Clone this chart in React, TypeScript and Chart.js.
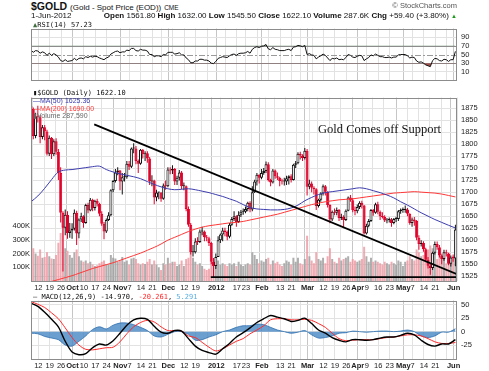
import React, { useEffect, useRef } from "react";
import { Chart, registerables } from "chart.js";
Chart.register(...registerables);

// ---------------- DATA ----------------
// Daily trading days Sep 6 2011 .. Jun 1 2012 (index = trading day)
const opens = [
  1880,1873,1817,1858,1856,1815,1835,1826,1780,1813,
  1779,1806,1784,1740,1657,1626,1653,1615,1620,1624,
  1657,1614,1643,1650,1636,1673,1662,1684,1667,1682,
  1676,1655,1634,1618,1642,1652,1704,1723,1741,1745,
  1722,1731,1731,1759,1753,1791,1791,1765,1759,1788,
  1779,1781,1770,1722,1724,1689,1699,1699,1686,1714,
  1712,1747,1745,1748,1722,1730,1741,1712,1712,1665,
  1632,1575,1575,1597,1596,1618,1618,1606,1604,1594,
  1555,1546,1565,1600,1612,1620,1617,1607,1632,1644,
  1650,1638,1653,1659,1659,1665,1678,1664,1700,1722,
  1736,1730,1740,1744,1758,1725,1720,1745,1733,1730,
  1723,1722,1722,1729,1733,1725,1757,1760,1780,1776,
  1771,1786,1711,1718,1709,1706,1671,1684,1697,1712,
  1701,1673,1643,1659,1657,1663,1646,1649,1642,1661,
  1689,1683,1663,1660,1669,1678,1672,1614,1630,1640,
  1663,1657,1675,1659,1650,1648,1641,1642,1643,1636,
  1644,1644,1660,1663,1663,1664,1655,1636,1643,1640,
  1605,1592,1594,1581,1559,1547,1542,1574,1592,1585,
  1568,1561,1575,1572,1551,1564,1561.8,
];
const highs = [
  1921,1876,1865,1880,1860,1840,1840,1830,1818,1815,
  1810,1812,1790,1752,1660,1664,1660,1636,1635,1664,
  1661,1645,1657,1652,1676,1678,1688,1686,1684,1686,
  1678,1660,1638,1645,1658,1706,1725,1748,1752,1746,
  1740,1740,1765,1765,1793,1802,1796,1768,1790,1790,
  1785,1785,1773,1735,1726,1705,1701,1700,1718,1724,
  1752,1752,1756,1750,1734,1746,1744,1720,1714,1670,
  1636,1590,1604,1606,1622,1628,1620,1611,1607,1596,
  1563,1572,1608,1614,1626,1626,1620,1636,1648,1660,
  1652,1660,1663,1666,1670,1680,1681,1712,1726,1740,
  1737,1748,1750,1764,1762,1728,1748,1747,1741,1732,
  1728,1730,1734,1735,1737,1759,1765,1783,1784,1779,
  1792,1790,1726,1722,1712,1708,1686,1700,1716,1715,
  1702,1675,1662,1666,1668,1665,1655,1652,1664,1691,
  1694,1688,1670,1674,1681,1682,1673,1634,1644,1665,
  1665,1678,1680,1662,1658,1652,1646,1647,1646,1646,
  1649,1663,1666,1668,1672,1667,1656,1647,1648,1642,
  1610,1600,1598,1584,1565,1552,1576,1597,1597,1590,
  1570,1580,1580,1574,1568,1570,1632,
];
const lows = [
  1855,1810,1812,1845,1802,1810,1808,1776,1775,1769,
  1775,1778,1725,1637,1535,1610,1603,1605,1603,1620,
  1590,1604,1638,1626,1634,1656,1660,1660,1662,1670,
  1650,1630,1602,1615,1640,1650,1700,1720,1735,1704,
  1695,1722,1728,1746,1750,1781,1758,1740,1757,1770,
  1765,1761,1715,1712,1675,1681,1685,1680,1684,1705,
  1710,1737,1738,1715,1715,1724,1706,1704,1660,1628,
  1570,1566,1572,1590,1594,1610,1598,1598,1588,1550,
  1523,1540,1565,1594,1598,1608,1600,1604,1630,1640,
  1628,1636,1648,1653,1656,1660,1658,1660,1698,1714,
  1718,1727,1736,1740,1722,1712,1718,1728,1725,1712,
  1716,1714,1715,1716,1720,1724,1750,1758,1768,1765,
  1768,1693,1706,1700,1695,1663,1668,1680,1693,1693,
  1668,1635,1640,1652,1652,1640,1642,1627,1640,1660,
  1680,1658,1652,1656,1665,1666,1612,1612,1627,1638,
  1651,1655,1654,1642,1645,1638,1635,1637,1628,1633,
  1638,1640,1655,1657,1657,1650,1632,1628,1630,1600,
  1580,1587,1576,1556,1541,1528,1538,1570,1580,1564,
  1550,1557,1566,1548,1545,1555,1545.5,
];
const closes = [
  1873,1817,1858,1856,1815,1835,1826,1780,1813,1779,
  1806,1784,1740,1657,1626,1653,1615,1620,1624,1657,
  1614,1643,1650,1636,1673,1662,1684,1667,1682,1676,
  1655,1634,1618,1642,1652,1704,1723,1741,1745,1722,
  1731,1731,1759,1753,1791,1791,1765,1759,1788,1779,
  1781,1770,1722,1724,1689,1699,1699,1686,1714,1712,
  1747,1745,1748,1722,1730,1741,1712,1712,1665,1632,
  1575,1575,1597,1596,1618,1618,1606,1604,1594,1555,
  1546,1565,1600,1612,1620,1617,1607,1632,1644,1650,
  1638,1653,1659,1659,1665,1678,1664,1700,1722,1736,
  1730,1740,1744,1758,1725,1720,1745,1733,1730,1723,
  1722,1722,1729,1733,1725,1757,1760,1780,1776,1771,
  1786,1711,1718,1709,1706,1671,1684,1697,1712,1701,
  1673,1643,1659,1657,1663,1646,1649,1642,1661,1689,
  1683,1663,1660,1669,1678,1672,1614,1630,1640,1663,
  1657,1675,1659,1650,1648,1641,1642,1643,1636,1644,
  1644,1660,1663,1663,1664,1655,1636,1643,1640,1605,
  1592,1594,1581,1559,1547,1542,1574,1592,1585,1568,
  1561,1575,1572,1551,1564,1562.7,1622.1,
];
// volume, thousands
const volumes = [
  300,240,200,185,230,170,175,210,180,165,
  160,190,280,350,400,240,220,190,170,210,
  230,180,150,140,150,130,140,120,110,115,
  130,140,150,125,120,190,170,165,140,150,
  175,140,150,120,165,170,160,130,120,130,
  125,140,160,120,150,120,100,80,130,120,
  170,130,140,140,110,120,150,110,160,170,
  210,170,140,120,130,110,90,80,90,140,
  150,120,150,120,130,120,110,130,120,130,
  110,140,120,110,120,130,120,210,190,160,
  130,150,140,160,170,120,150,130,140,120,
  110,130,150,140,120,170,140,170,130,120,
  160,330,180,150,130,210,160,150,170,130,
  180,240,160,140,130,170,150,160,170,180,
  140,160,150,140,150,160,250,180,140,170,
  140,150,140,130,120,140,130,120,140,130,
  120,150,140,110,140,150,180,160,150,230,
  210,180,190,220,230,260,240,210,160,190,
  200,170,130,190,170,180,287.59,
];
const rsi14 = [
  60,55,59,58,53,56,54,48,53,48,
  52,49,44,36,34,38,34,35,36,41,
  37,41,42,40,45,43,46,44,46,45,
  42,40,38,42,44,51,54,57,58,54,
  56,56,60,59,64,64,59,58,62,60,
  60,58,50,50,45,47,47,45,50,49,
  55,55,55,51,52,54,49,49,42,38,
  31,31,35,35,39,39,37,37,35,30,
  29,34,41,43,45,44,43,47,50,51,
  48,52,53,53,54,57,53,62,66,68,
  66,69,70,73,63,61,66,62,61,59,
  59,59,61,62,59,67,68,71,70,68,
  71,50,52,49,48,40,44,47,51,48,
  42,36,41,40,42,38,39,38,43,50,
  48,44,43,46,48,47,36,40,43,49,
  47,51,48,45,45,43,43,44,42,44,
  44,49,50,50,50,47,42,44,43,35,
  32,33,30,26,24,22,36,41,40,36,
  35,39,38,34,38,38,57.23,
];
// Every 3rd trading day (0, 3, 6, ... 186)
const ma50 = [
  1680,1692,1708,1726,1742,1746,1747,1749,1751,1753,
  1754,1747,1742,1738,1735,1732,1728,1722,1716,1711,
  1707,1705,1706,1707,1705,1702,1699,1695,1691,1686,
  1681,1674,1668,1665,1664,1663,1663,1664,1667,1673,
  1682,1689,1695,1699,1701,1703,1705,1707,1709,1707,
  1703,1699,1694,1688,1680,1673,1665,1657,1650,1643,
  1637,1631,1625.36,
];
const ma200 = [
  1500,1505,1509,1514,1518,1522,1526,1531,1536,1541,
  1545,1549,1553,1558,1563,1568,1573,1579,1585,1592,
  1600,1606,1612,1618,1623,1627,1630,1632,1634,1636,
  1637,1639,1642,1645,1648,1651,1654,1658,1662,1666,
  1670,1674,1677,1680,1682,1684,1685,1686,1688,1690,
  1692,1694,1696,1698,1699,1700,1701,1700,1699,1698,
  1696,1693,1690,
];
const macdLine = [
  53,47,36,23,9,-18,-38,-43,-41,-30,
  -23,-25,-17,-3,12,22,25,23,10,-1,
  -3,2,1,-13,-27,-35,-39,-42,-32,-22,
  -10,-2,7,17,24,30,27,24,19,21,
  25,15,3,-3,-11,-16,-19,-15,-15,-16,
  -15,-12,-10,-10,-7,-3,-6,-16,-24,-27,
  -23,-23,-14.97,
];
const macdSignal = [
  56,51,45,35,24,7,-11,-25,-33,-34,
  -32,-30,-29,-19,-4,9,17,21,18,9,
  2,2,1,-8,-11,-20,-29,-36,-32,-25,
  -18,-13,-4,3,11,22,24,24,22,22,
  23,21,15,8,-3,-13,-17,-16,-15,-15,
  -15,-13,-11,-10,-8,-6,-6,-8,-13,-19,
  -22,-22,-20.261,
];
const macdHist = [
  -3,-4,-9,-12,-15,-25,-27,-18,-8,4,
  9,5,12,16,16,13,8,2,-8,-10,
  -5,0,0,-5,-16,-15,-10,-6,0,3,
  8,11,11,14,13,8,3,0,-3,-1,
  2,-6,-12,-11,-8,-3,-2,1,0,-1,
  0,1,1,0,1,3,0,-8,-11,-8,
  -1,-1,5.291,
];
// x-axis weekly grid (trading-day index) and labels
const gridDays = [4,9,14,19,24,29,34,40,44,49,54,58,61,63,68,73,78,82,86,91,95,100,102,105,110,115,119,122,124,129,134,139,144,148,153,158,164,168,173,178,183,186];
const gridLabels = ["12","19","26","Oct","10","17","24","Nov","7","14","21","","Dec","","12","19","","2012","","17","23","","Feb","","13","21","","Mar","","12","19","26","Apr","9","16","23","May","7","14","21","","Jun"];
const priceTicks = [1525,1550,1575,1600,1625,1650,1675,1700,1725,1750,1775,1800,1825,1850,1875];
const rsiTicks = [10,30,50,70,90];
const macdTicks = [-25,0,25,50];
const volumeTicks = [100,200,300,400];
const resistanceDays = [27.7, 186.7];
const resistancePrices = [1841, 1529];
const supportDays = [78.8, 186.7];
const supportPrices = [1523, 1523];

// ---------------- STYLE ----------------
const RED = "#e0002a";
const BLACK = "#111111";
const SANS = '"Liberation Sans", Arial, sans-serif';
const MONO = '"DejaVu Sans Mono", monospace';
const X_MAX = 186.7;
const LEFT_W = 31;
const RIGHT_W = 32;

const sampleDays = ma50.map((_, k) => k * 3);
const isMonth = (i: number) => /[A-Za-z]|2012/.test(gridLabels[i] || "");

function xScale(showLabels: boolean, h: number) {
  return {
    type: "linear",
    min: 0,
    max: X_MAX,
    offset: false,
    afterBuildTicks: (s: any) => {
      s.ticks = gridDays.map((d) => ({ value: d - 0.8 }));
    },
    afterFit: (s: any) => {
      s.height = h;
    },
    grid: {
      drawTicks: false,
      color: (c: any) => (isMonth(c.index) ? "#c6c6c6" : "#e2e2e2"),
      lineWidth: 1,
    },
    border: { display: false },
    ticks: {
      display: showLabels,
      autoSkip: false,
      maxRotation: 0,
      minRotation: 0,
      padding: 2,
      color: "#222",
      font: (c: any) => ({ family: SANS, size: 7.5, weight: isMonth(c.index) ? "bold" : "normal" }),
      callback: (_v: any, i: number) => gridLabels[i],
    },
  };
}

function yRight(min: number, max: number, ticks: number[], gridColor: any) {
  return {
    position: "right",
    min,
    max,
    afterBuildTicks: (s: any) => {
      s.ticks = ticks.map((v) => ({ value: v }));
    },
    afterFit: (s: any) => {
      s.width = RIGHT_W;
    },
    grid: { drawTicks: false, color: gridColor },
    border: { display: false },
    ticks: {
      padding: 4,
      color: "#222",
      font: { family: SANS, size: 7.5 },
      callback: (v: any) => String(v),
    },
  };
}

const framePlugin = {
  id: "frame",
  afterDraw(chart: any) {
    const { ctx, chartArea: a } = chart;
    ctx.save();
    ctx.strokeStyle = "#8c8c8c";
    ctx.lineWidth = 1;
    ctx.strokeRect(Math.round(a.left) + 0.5, Math.round(a.top) + 0.5, Math.round(a.right - a.left) - 1, Math.round(a.bottom - a.top) - 1);
    ctx.restore();
  },
};

const rsiRefLines = {
  id: "rsiRef",
  beforeDatasetsDraw(chart: any) {
    const { ctx, chartArea: a, scales } = chart;
    const y = scales.y;
    ctx.save();
    ctx.lineWidth = 1;
    ctx.strokeStyle = "#8c8c8c";
    [30, 70].forEach((v) => {
      const py = Math.round(y.getPixelForValue(v)) + 0.5;
      ctx.beginPath();
      ctx.moveTo(a.left, py);
      ctx.lineTo(a.right, py);
      ctx.stroke();
    });
    ctx.setLineDash([6, 2, 2, 2]);
    ctx.strokeStyle = "#9a9a9a";
    const p50 = Math.round(y.getPixelForValue(50)) + 0.5;
    ctx.beginPath();
    ctx.moveTo(a.left, p50);
    ctx.lineTo(a.right, p50);
    ctx.stroke();
    ctx.restore();
  },
};

const baseOptions = (padLeft: number) => ({
  responsive: false,
  maintainAspectRatio: false,
  animation: false,
  events: [],
  layout: { padding: { left: padLeft, right: 0, top: 0, bottom: 0 }, autoPadding: false },
  plugins: { legend: { display: false }, tooltip: { enabled: false }, title: { display: false } },
});

function rsiConfig(): any {
  const pts = rsi14.map((v, i) => ({ x: i, y: v }));
  return {
    type: "line",
    data: {
      datasets: [
        { data: pts, borderColor: BLACK, borderWidth: 1, pointRadius: 0, order: 0, fill: false },
        { data: pts, borderWidth: 0, pointRadius: 0, order: 1, fill: { target: { value: 70 }, above: "#3f6f3f", below: "rgba(0,0,0,0)" } },
        { data: pts, borderWidth: 0, pointRadius: 0, order: 2, fill: { target: { value: 30 }, above: "rgba(0,0,0,0)", below: "#a4514c" } },
      ],
    },
    options: {
      ...baseOptions(LEFT_W),
      scales: {
        x: xScale(false, 0),
        y: yRight(-10, 110, rsiTicks, (c: any) => (c.tick && (c.tick.value === 10 || c.tick.value === 90) ? "#e2e2e2" : "rgba(0,0,0,0)")),
      },
    },
    plugins: [rsiRefLines, framePlugin],
  };
}

function mainConfig(): any {
  const candleColor = closes.map((c, i) => ((i > 0 ? c < closes[i - 1] : c < opens[i]) ? RED : BLACK));
  const bodyFill = closes.map((c, i) => (c < opens[i] ? candleColor[i] : "#ffffff"));
  const volColor = candleColor.map((c) => (c === RED ? "rgba(238,150,160,0.8)" : "rgba(160,160,160,0.85)"));
  return {
    type: "bar",
    data: {
      datasets: [
        {
          type: "line",
          data: resistanceDays.map((d, i) => ({ x: d, y: resistancePrices[i] })),
          borderColor: "#000",
          borderWidth: 1.8,
          pointRadius: 0,
          order: 0,
        },
        {
          type: "line",
          data: supportDays.map((d, i) => ({ x: d, y: supportPrices[i] })),
          borderColor: "#000",
          borderWidth: 1.8,
          pointRadius: 0,
          order: 0,
        },
        {
          type: "line",
          data: sampleDays.map((d, k) => ({ x: d, y: ma50[k] })),
          borderColor: "#3c3cae",
          borderWidth: 1,
          pointRadius: 0,
          tension: 0.35,
          order: 1,
        },
        {
          type: "line",
          data: sampleDays.map((d, k) => ({ x: d, y: ma200[k] })),
          borderColor: "#ff3838",
          borderWidth: 1,
          pointRadius: 0,
          tension: 0.35,
          order: 1,
        },
        {
          type: "bar",
          data: closes.map((c, i) => ({ x: i, y: [opens[i], c] })),
          backgroundColor: bodyFill,
          borderColor: candleColor,
          borderWidth: 1,
          borderSkipped: false,
          barThickness: 3,
          minBarLength: 1,
          inflateAmount: 0,
          grouped: false,
          order: 2,
        },
        {
          type: "bar",
          data: closes.map((_c, i) => ({ x: i, y: [lows[i], highs[i]] })),
          backgroundColor: candleColor,
          borderWidth: 0,
          barThickness: 1,
          inflateAmount: 0,
          grouped: false,
          order: 3,
        },
        {
          type: "bar",
          yAxisID: "yVol",
          data: volumes.map((v, i) => ({ x: i, y: v })),
          backgroundColor: volColor,
          borderWidth: 0,
          barThickness: 2,
          inflateAmount: 0,
          grouped: false,
          order: 4,
        },
      ],
    },
    options: {
      ...baseOptions(0),
      scales: {
        x: xScale(true, 11),
        y: yRight(1515, 1897, priceTicks, "#e2e2e2"),
        yVol: {
          position: "left",
          min: 0,
          max: 1340,
          afterBuildTicks: (s: any) => {
            s.ticks = volumeTicks.map((v) => ({ value: v }));
          },
          afterFit: (s: any) => {
            s.width = LEFT_W;
          },
          grid: { drawOnChartArea: false, drawTicks: false },
          border: { display: false },
          ticks: { padding: 1, color: "#222", font: { family: SANS, size: 7.5 }, callback: (v: any) => v + "K" },
        },
      },
    },
    plugins: [framePlugin],
  };
}

function macdConfig(): any {
  return {
    type: "line",
    data: {
      datasets: [
        {
          data: sampleDays.map((d, k) => ({ x: d, y: macdLine[k] })),
          borderColor: "#000",
          borderWidth: 1.4,
          pointRadius: 0,
          tension: 0.3,
          order: 0,
        },
        {
          data: sampleDays.map((d, k) => ({ x: d, y: macdSignal[k] })),
          borderColor: "#ff2a2a",
          borderWidth: 1,
          pointRadius: 0,
          tension: 0.3,
          order: 1,
        },
        {
          data: sampleDays.map((d, k) => ({ x: d, y: macdHist[k] })),
          borderColor: "#2f6fae",
          borderWidth: 0.8,
          backgroundColor: "rgba(70,135,195,0.8)",
          pointRadius: 0,
          tension: 0.3,
          fill: "origin",
          order: 2,
        },
      ],
    },
    options: {
      ...baseOptions(LEFT_W),
      scales: {
        x: xScale(true, 12),
        y: yRight(-51, 58, macdTicks, "#e2e2e2"),
      },
    },
    plugins: [framePlugin],
  };
}

const abs = (s: React.CSSProperties): React.CSSProperties => ({ position: "absolute", whiteSpace: "nowrap", ...s });

export default function App() {
  const rsiRef = useRef<HTMLCanvasElement>(null);
  const mainRef = useRef<HTMLCanvasElement>(null);
  const macdRef = useRef<HTMLCanvasElement>(null);

  useEffect(() => {
    const charts = [
      new Chart(rsiRef.current as HTMLCanvasElement, rsiConfig()),
      new Chart(mainRef.current as HTMLCanvasElement, mainConfig()),
      new Chart(macdRef.current as HTMLCanvasElement, macdConfig()),
    ];
    return () => charts.forEach((c) => c.destroy());
  }, []);

  const last = closes.length - 1;
  return (
    <div style={{ position: "fixed", left: 0, top: 0, width: 489, height: 371, background: "#fff", overflow: "hidden", fontFamily: SANS, color: "#111" }}>
      <canvas ref={rsiRef} width={489} height={69} style={{ position: "absolute", left: 0, top: 20, width: 489, height: 69 }} />
      <canvas ref={mainRef} width={489} height={203} style={{ position: "absolute", left: 0, top: 89, width: 489, height: 203 }} />
      <canvas ref={macdRef} width={489} height={79} style={{ position: "absolute", left: 0, top: 292, width: 489, height: 79 }} />

      {/* header */}
      <div style={abs({ left: 31, top: 0, lineHeight: "12px", fontSize: 10.5, fontWeight: "bold" })}>
        $GOLD <span style={{ fontWeight: "normal", fontSize: 8 }}>(Gold - Spot Price (EOD))</span> <span style={{ fontWeight: "normal", fontSize: 6.5 }}>CME</span>
      </div>
      <div style={abs({ right: 32, top: 1, lineHeight: "9px", fontSize: 7.5, color: "#555" })}>© StockCharts.com</div>
      <div style={abs({ left: 31, top: 11, lineHeight: "9px", fontSize: 8 })}>1-Jun-2012</div>
      <div style={abs({ right: 32, top: 11, lineHeight: "9px", fontSize: 8 })}>
        <b>Open</b> 1561.80 <b>High</b> 1632.00 <b>Low</b> 1545.50 <b>Close</b> 1622.10 <b>Volume</b> 287.6K <b>Chg</b> +59.40 (+3.80%) <span style={{ color: "#1a9a1a", fontSize: 6 }}>▲</span>
      </div>

      {/* RSI legend */}
      <div style={abs({ left: 33, top: 21, lineHeight: "8px", fontSize: 7, fontFamily: MONO })}>
        <span style={{ color: "#3f6f3f", fontWeight: "bold" }}>▲</span>RSI(14) {rsi14[last].toFixed(2)}
      </div>

      {/* main legend */}
      <div style={abs({ left: 33, top: 89, lineHeight: "8px", fontSize: 7, fontFamily: MONO })}>
        <span style={{ fontWeight: "bold" }}>▮</span>$GOLD (Daily) {closes[last].toFixed(2)}
      </div>
      <div style={abs({ left: 33, top: 97, lineHeight: "8px", fontSize: 7, color: "#3c3cae" })}>—MA(50) {ma50[ma50.length - 1].toFixed(2)}</div>
      <div style={abs({ left: 33, top: 104.5, lineHeight: "8px", fontSize: 7, color: "#ff3838" })}>—MA(200) {ma200[ma200.length - 1].toFixed(2)}</div>
      <div style={abs({ left: 33, top: 112, lineHeight: "8px", fontSize: 7, color: "#666" })}>▮Volume 287,590</div>

      {/* annotation */}
      <div style={abs({ left: 318, top: 122, lineHeight: "15px", fontSize: 12.5, fontFamily: '"Liberation Serif", serif', color: "#111" })}>Gold Comes off Support</div>

      {/* MACD legend */}
      <div style={abs({ left: 33, top: 293, lineHeight: "8px", fontSize: 7, fontFamily: MONO })}>
        — MACD(12,26,9) {macdLine[macdLine.length - 1].toFixed(3)}, <span style={{ color: "#ff2a2a" }}>{macdSignal[macdSignal.length - 1].toFixed(3)}</span>, <span style={{ color: "#5aaee0" }}>{macdHist[macdHist.length - 1].toFixed(3)}</span>
      </div>
    </div>
  );
}
